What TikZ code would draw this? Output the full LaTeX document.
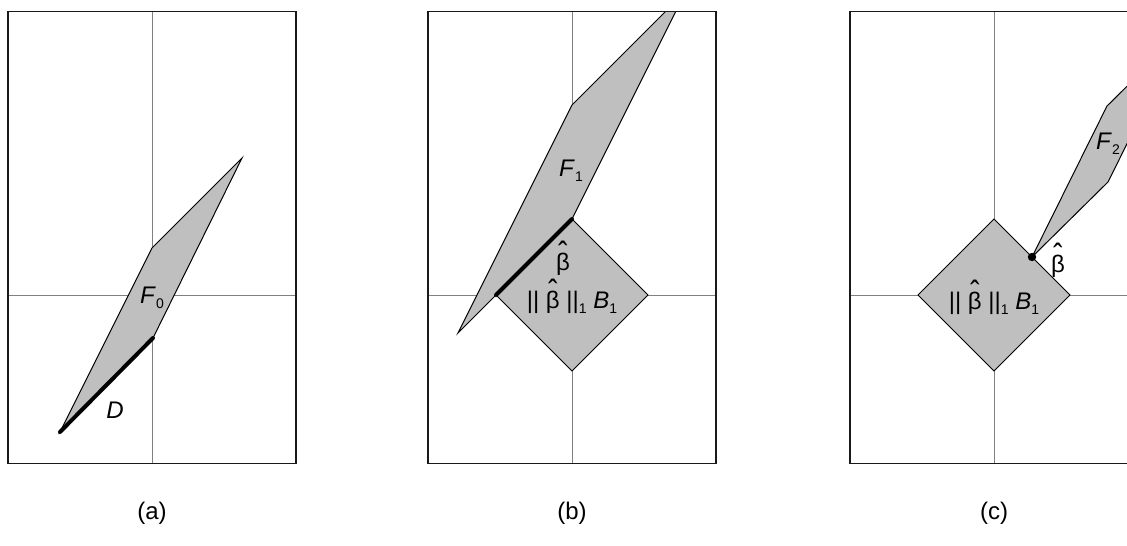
\documentclass[tikz,border=0pt]{standalone}
\usepackage{fontspec}
\setmainfont{Liberation Sans}
\newcommand\bhat{{\setbox0\hbox{β}\leavevmode\hbox to\wd0{\hss\raisebox{0.2em}{\scalebox{1.15}[1.4]{ˆ}}\hss}\kern-\wd0\box0}}
\newcommand\sbs[1]{\raisebox{-0.22em}{\fontsize{14}{14}\selectfont #1}}
\begin{document}
\begin{tikzpicture}[x=1pt,y=-1pt,
  frame/.style={line width=1.6pt,black!90},
  axis/.style={line width=1pt,black!50},
  region/.style={fill=black!25,draw=black,line width=1pt,line join=miter},
  edgeline/.style={line width=4pt,line cap=round},
  lbl/.style={font=\fontsize{24}{28}\selectfont,inner sep=0pt,anchor=base}]
\useasboundingbox (0,0) rectangle (1127,546);
\clip (0,0) rectangle (1127,546);
\fill[white] (0,0) rectangle (1127,546);

% ---------------- panel (a)
\coordinate (a-nw) at (8,11.5);
\coordinate (a-se) at (296,463.5);
\coordinate (a-t) at (152,11.5);
\coordinate (a-b) at (152,463.5);
\coordinate (a-l) at (8,295);
\coordinate (a-r) at (296,295);
\draw[axis] (a-t) -- (a-b);
\draw[axis] (a-l) -- (a-r);
\coordinate (a1) at (60,432);
\coordinate (a2) at (152,248);
\coordinate (a3) at (242,158);
\coordinate (a4) at (153,338);
\draw[region] (a1) -- (a2) -- (a3) -- (a4) -- cycle;
\draw[edgeline] (a1) -- (a4);
\draw[frame] (a-nw) rectangle (a-se);
\node[lbl] (F0) at (152,303) {\textit{F}\sbs{0}};
\node[lbl] (Dl) at (115,418) {\textit{D}};
\node[lbl] (capa) at (152,519) {(a)};

% ---------------- panel (b)
\coordinate (b-nw) at (428,11.5);
\coordinate (b-se) at (716,463.5);
\coordinate (b-t) at (572,11.5);
\coordinate (b-b) at (572,463.5);
\coordinate (b-l) at (428,295);
\coordinate (b-r) at (716,295);
\draw[axis] (b-t) -- (b-b);
\draw[axis] (b-l) -- (b-r);
\coordinate (bT) at (572,219);
\coordinate (bR) at (648,295);
\coordinate (bB) at (572,371);
\coordinate (bL) at (496,295);
\coordinate (b1) at (458,333);
\coordinate (b2) at (572,105);
\coordinate (b3) at (686,-9);
\begin{scope}
  \clip (b-nw) rectangle (b-se);
  \draw[region] (b1) -- (b2) -- (b3) -- (bT) -- cycle;
\end{scope}
\draw[region] (bT) -- (bR) -- (bB) -- (bL) -- cycle;
\draw[edgeline] (bL) -- (bT);
\draw[frame] (b-nw) rectangle (b-se);
\node[lbl] (F1) at (571,176) {\textit{F}\sbs{1}};
\node[lbl] (bhb) at (563,270) {\bhat};
\node[lbl] (Bb) at (572,308) {|| \bhat\ ||\sbs{1} \textit{B}\sbs{1}};
\node[lbl] (capb) at (572,519) {(b)};

% ---------------- panel (c)
\coordinate (c-nw) at (850,11.5);
\coordinate (c-se) at (1138,463.5);
\coordinate (c-t) at (994,11.5);
\coordinate (c-b) at (994,463.5);
\coordinate (c-l) at (850,295);
\coordinate (c-r) at (1138,295);
\draw[axis] (c-t) -- (c-b);
\draw[axis] (c-l) -- (c-r);
\coordinate (cT) at (994,219);
\coordinate (cR) at (1070,295);
\coordinate (cB) at (994,371);
\coordinate (cL) at (918,295);
\coordinate (cP) at (1032,257);
\coordinate (c2) at (1107,106);
\coordinate (c3) at (1183,31);
\coordinate (c4) at (1108,182);
\draw[region] (cT) -- (cR) -- (cB) -- (cL) -- cycle;
\begin{scope}
  \clip (c-nw) rectangle (c-se);
  \draw[region] (cP) -- (c2) -- (c3) -- (c4) -- cycle;
\end{scope}
\fill (cP) circle (4.2pt);
\draw[frame] (c-nw) rectangle (c-se);
\node[lbl] (F2) at (1108,149) {\textit{F}\sbs{2}};
\node[lbl] (bhc) at (1058,272) {\bhat};
\node[lbl] (Bc) at (994,309) {|| \bhat\ ||\sbs{1} \textit{B}\sbs{1}};
\node[lbl] (capc) at (994,519) {(c)};
\end{tikzpicture}
\end{document}
